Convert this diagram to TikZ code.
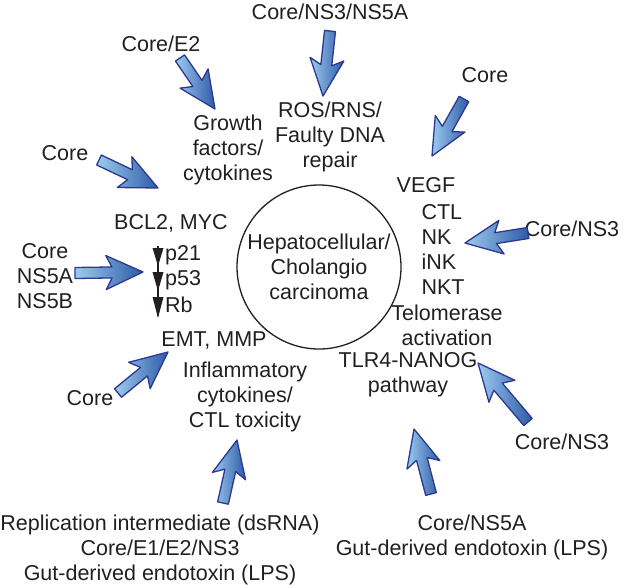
\documentclass[tikz,border=0pt]{standalone}
\usepackage{fontspec}
\setmainfont{Liberation Sans}
\usetikzlibrary{calc}
\definecolor{arrline}{HTML}{2B3990}
\definecolor{arrlight}{HTML}{9CCBEE}
\definecolor{arrdark}{HTML}{2E5AA8}
\definecolor{txt}{HTML}{231F20}
\tikzset{
  lbl/.style={font=\fontsize{21.5}{25}\selectfont, text=txt, align=center, inner sep=0pt},
  barrow/.style={draw=arrline, line width=1.3pt, line join=round, left color=arrlight, right color=arrdark},
}
% #1 tail coordinate, #2 tip coordinate
\newcommand\blockarrow[2]{%
  \path[barrow] (#2)
    -- ($(#2)!37pt!(#1)!17pt!90:(#1)$)
    -- ($(#2)!31pt!(#1)!5.5pt!90:(#1)$)
    -- ($(#1)!5.5pt!-90:(#2)$)
    -- ($(#1)!5.5pt!90:(#2)$)
    -- ($(#2)!31pt!(#1)!5.5pt!-90:(#1)$)
    -- ($(#2)!37pt!(#1)!17pt!-90:(#1)$)
    -- cycle;
}
\begin{document}
\begin{tikzpicture}[x=1pt,y=-1pt]
\useasboundingbox (0,0) rectangle (634,587);

% centre
\node[lbl, draw=txt, circle, minimum size=164pt, line width=1.3pt] (hcc) at (319,267) {Hepatocellular/\\Cholangio\\carcinoma};

% texts
\node[lbl] (t1) at (330,12) {Core/NS3/NS5A};
\node[lbl] (t2) at (330,137) {ROS/RNS/\\Faulty DNA\\repair};
\node[lbl] (t3) at (161,44) {Core/E2};
\node[lbl] (t4) at (228,150) {Growth\\factors/\\cytokines};
\node[lbl] (t5) at (65,153) {Core};
\node[lbl] (t6) at (171,223) {BCL2, MYC};
\node[lbl] (t7) at (45,276) {Core\\NS5A\\NS5B};
\node[lbl, anchor=west] (p21) at (165,255) {p21};
\node[lbl, anchor=west] (p53) at (165,280) {p53};
\node[lbl, anchor=west] (rb) at (165,305) {Rb};
\node[lbl] (t8) at (214,340) {EMT, MMP};
\node[lbl] (t9) at (90,398) {Core};
\node[lbl] (t10) at (245,397) {Inflammatory\\cytokines/\\CTL toxicity};
\node[lbl] (t11) at (160,550) {Replication intermediate (dsRNA)\\Core/E1/E2/NS3\\Gut-derived endotoxin (LPS)};
\node[lbl] (t12) at (472,537) {Core/NS5A\\Gut-derived endotoxin (LPS)};
\node[lbl] (t13) at (562,442) {Core/NS3};
\node[lbl] (t14) at (408,375) {TLR4-NANOG\\pathway};
\node[lbl] (t15) at (447,325) {Telomerase\\activation};
\node[lbl, align=left] (t16) at (443,249) {CTL\\NK\\iNK\\NKT};
\node[lbl] (t17) at (426,185) {VEGF};
\node[lbl] (t18) at (572,229) {Core/NS3};
\node[lbl] (t19) at (485,75) {Core};

% p21 / p53 / Rb black arrows
\coordinate (pa) at (158,246);
\coordinate (pb) at (158,316);
\draw[txt, line width=1.2pt] (pa) -- (pb);
\fill[txt] (152.5,248) -- (163.5,248) -- (158,266) -- cycle;
\fill[txt] (152.5,272) -- (163.5,272) -- (158,291) -- cycle;
\fill[txt] (152.5,297) -- (163.5,297) -- (158,318) -- cycle;

% block arrows
\coordinate (a1s) at (330,31);  \coordinate (a1e) at (323,96);
\coordinate (a2s) at (180,58);  \coordinate (a2e) at (215,109);
\coordinate (a3s) at (99,160);  \coordinate (a3e) at (158,188);
\coordinate (a4s) at (75,273);  \coordinate (a4e) at (143,272);
\coordinate (a5s) at (118,393); \coordinate (a5e) at (168,352);
\coordinate (a6s) at (223,503); \coordinate (a6e) at (237,440);
\coordinate (a7s) at (431,494); \coordinate (a7e) at (414,429);
\coordinate (a8s) at (528,422); \coordinate (a8e) at (478,363);
\coordinate (a9s) at (528,233); \coordinate (a9e) at (465,243);
\coordinate (a10s) at (464,99); \coordinate (a10e) at (432,156);
\blockarrow{a1s}{a1e}
\blockarrow{a2s}{a2e}
\blockarrow{a3s}{a3e}
\blockarrow{a4s}{a4e}
\blockarrow{a5s}{a5e}
\blockarrow{a6s}{a6e}
\blockarrow{a7s}{a7e}
\blockarrow{a8s}{a8e}
\blockarrow{a9s}{a9e}
\blockarrow{a10s}{a10e}
\end{tikzpicture}
\end{document}
